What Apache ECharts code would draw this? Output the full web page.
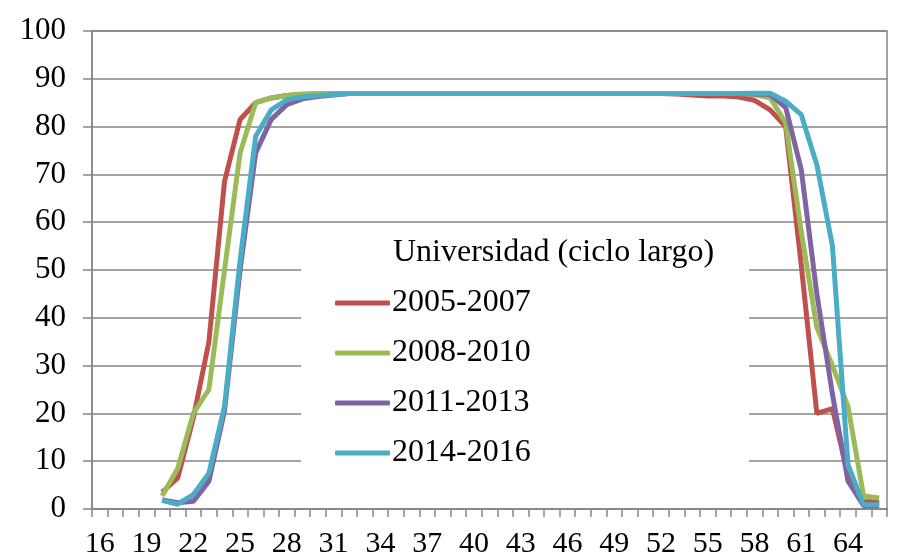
<!DOCTYPE html>
<html>
<head>
<meta charset="utf-8">
<script src="https://cdn.jsdelivr.net/npm/echarts@6/dist/echarts.min.js"></script>
<style>
  html, body { margin: 0; padding: 0; background: #fff; }
  #chart { width: 904px; height: 559px; }
</style>
</head>
<body>
<div id="chart"></div>
<script>
// edades 16..66
const ages = ['16','17','18','19','20','21','22','23','24','25','26','27','28','29','30','31','32','33','34','35','36','37','38','39','40','41','42','43','44','45','46','47','48','49','50','51','52','53','54','55','56','57','58','59','60','61','62','63','64','65','66']

const s2005 = [null,null,null,null,3.5,6.5,19,35,68.5,81.5,85,86,86.5,86.7,86.8,86.9,86.9,86.9,86.9,86.9,86.9,86.9,86.9,86.9,86.9,86.9,86.9,86.9,86.9,86.9,86.9,86.9,86.9,86.9,86.9,86.9,86.9,86.8,86.6,86.4,86.4,86.2,85.5,83.5,80,51,20,21,7,1.5,1.5]
const s2008 = [null,null,null,null,2.7,8.5,20,25,50,74.5,85,86,86.5,86.8,86.9,86.9,86.9,86.9,86.9,86.9,86.9,86.9,86.9,86.9,86.9,86.9,86.9,86.9,86.9,86.9,86.9,86.9,86.9,86.9,86.9,86.9,86.9,86.9,86.9,86.9,86.9,86.9,86.7,86,80.8,58,38,30,21.4,2.7,2.3]
const s2011 = [null,null,null,null,1.9,1.3,1.6,5.8,20.5,50,74.5,81.5,84.6,85.8,86.3,86.6,86.9,86.9,86.9,86.9,86.9,86.9,86.9,86.9,86.9,86.9,86.9,86.9,86.9,86.9,86.9,86.9,86.9,86.9,86.9,86.9,86.9,86.9,86.9,86.9,86.9,86.9,86.8,86.7,84,71,45,24,5.8,0.7,0.7]
const s2014 = [null,null,null,null,1.8,1.0,3,7.5,21.5,52,78,83.5,85.6,86.2,86.5,86.7,86.9,86.9,86.9,86.9,86.9,86.9,86.9,86.9,86.9,86.9,86.9,86.9,86.9,86.9,86.9,86.9,86.9,86.9,86.9,86.9,86.9,86.9,86.9,86.9,86.9,86.9,87,87,85.3,82.5,72,55,9.2,0.9,0.9]

const seriesNames = ['2005-2007', '2008-2010', '2011-2013', '2014-2016']
const colors = ['#C0504D', '#9BBB59', '#8064A2', '#4BACC6']

const font = 'Liberation Serif'
const gray = '#868686'

const chart = echarts.init(document.getElementById('chart'))

const mkLine = (name, data, i) => ({
  name: name,
  type: 'line',
  data: data,
  symbol: 'none',
  connectNulls: false,
  lineStyle: { width: 5, color: colors[i] },
  itemStyle: { color: colors[i] },
  z: 3 + i
})

chart.setOption({
  animation: false,
  backgroundColor: '#fff',
  textStyle: { fontFamily: font, color: '#000' },
  grid: {
    left: 92, right: 17, top: 31, bottom: 48,
    show: true, borderColor: gray, borderWidth: 1.5
  },
  // caja blanca de la leyenda (tapa las líneas de la rejilla)
  graphic: [
    {
      type: 'rect',
      shape: { x: 301, y: 226, width: 448, height: 262 },
      style: { fill: '#fff' },
      z: 2
    }
  ],
  title: {
    text: 'Universidad (ciclo largo)',
    left: 393,
    top: 237,
    padding: 0,
    z: 10,
    textStyle: { fontFamily: font, fontSize: 32, fontWeight: 'normal', color: '#000' }
  },
  legend: {
    orient: 'vertical',
    left: 335,
    top: 287,
    padding: 0,
    itemGap: 18,
    itemWidth: 55,
    itemHeight: 5,
    icon: 'roundRect',
    z: 10,
    textStyle: { fontFamily: font, fontSize: 32, color: '#000', lineHeight: 30, padding: [2, 0, 0, -3] },
    data: seriesNames
  },
  xAxis: {
    type: 'category',
    data: ages,
    boundaryGap: true,
    axisLine: { lineStyle: { color: gray, width: 1.5 } },
    axisTick: { show: true, interval: 0, length: 8, lineStyle: { color: gray, width: 1.5 } },
    axisLabel: { interval: 2, margin: 20, fontFamily: font, fontSize: 30, color: '#000' },
    splitLine: { show: false }
  },
  yAxis: {
    type: 'value',
    min: 0,
    max: 100,
    interval: 10,
    axisLine: { show: true, lineStyle: { color: gray, width: 1.5 } },
    axisTick: { show: true, length: 9, lineStyle: { color: gray, width: 1.5 } },
    axisLabel: { margin: 26, fontFamily: font, fontSize: 31, color: '#000' },
    splitLine: { show: true, lineStyle: { color: gray, width: 1.5 } }
  },
  series: [
    mkLine(seriesNames[0], s2005, 0),
    mkLine(seriesNames[1], s2008, 1),
    mkLine(seriesNames[2], s2011, 2),
    mkLine(seriesNames[3], s2014, 3)
  ]
})
</script>
</body>
</html>
